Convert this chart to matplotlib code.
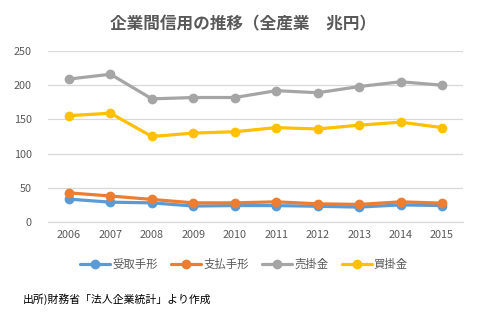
import matplotlib
matplotlib.use("Agg")
import matplotlib.pyplot as plt

plt.rcParams['font.family'] = ['Noto Sans CJK JP', 'DejaVu Sans']

years = ['2006', '2007', '2008', '2009', '2010', '2011', '2012', '2013', '2014', '2015']
uketori_tegata = [33.4, 29, 28, 23.3, 24, 24, 23, 21.8, 25, 24]
shiharai_tegata = [42.6, 38, 33, 28, 28, 29.5, 26.6, 25.7, 29.5, 27.6]
urikakekin = [209, 216, 180, 182, 182, 192, 189, 198, 205, 200]
kaikakekin = [155.5, 159, 125, 130, 132, 138, 136, 141.5, 146, 138]

series_names = ['受取手形', '支払手形', '売掛金', '買掛金']
series_values = [uketori_tegata, shiharai_tegata, urikakekin, kaikakekin]
colors = ['#5B9BD5', '#ED7D31', '#A5A5A5', '#FFC000']

text_color = '#595959'

fig = plt.figure(figsize=(4.96, 3.26), dpi=100)
ax = fig.add_axes([0.0974, 0.319, 0.8356, 0.5246])

x = list(range(len(years)))
for name, vals, c in zip(series_names, series_values, colors):
    ax.plot(x, vals, color=c, lw=2.3, marker='o', markersize=6,
            label=name, solid_capstyle='round')

ax.set_xlim(-0.5, len(years) - 0.5)
ax.set_ylim(0, 250)
ax.set_yticks([0, 50, 100, 150, 200, 250])
ax.set_xticks(x)
ax.set_xticklabels(years)
ax.yaxis.grid(True, color='#D9D9D9', lw=0.9)
ax.set_axisbelow(True)
for s in ['top', 'right', 'left']:
    ax.spines[s].set_visible(False)
ax.spines['bottom'].set_color('#D9D9D9')
ax.spines['bottom'].set_linewidth(0.9)
ax.tick_params(axis='both', length=0, labelsize=7.8, colors=text_color, pad=6)
ax.tick_params(axis='y', pad=12)

fig.text(0.49, 0.925, '企業間信用の推移（全産業\u3000兆円）', ha='center', va='center',
         fontsize=12, fontweight='bold', color=text_color)

leg = fig.legend(loc='center', bbox_to_anchor=(0.492, 0.19), ncol=4, frameon=False,
                 fontsize=8.2, handlelength=2.6, columnspacing=1.2, handletextpad=0.2)
for t in leg.get_texts():
    t.set_color(text_color)

fig.text(0.046, 0.083, '出所)財務省「法人企業統計」より作成', ha='left', va='center',
         fontsize=7.8, color='black')

fig.savefig('out.png', dpi=100)
